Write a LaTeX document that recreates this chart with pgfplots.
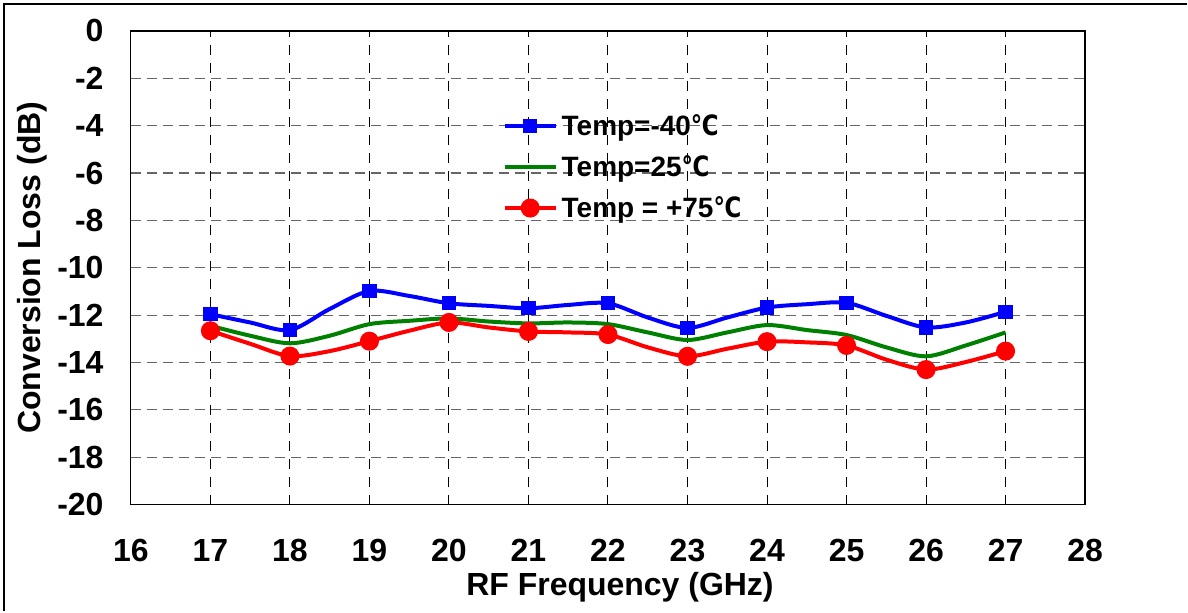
\documentclass[border=0pt]{standalone}
\usepackage{fontspec}
\setmainfont{Liberation Sans}
\newfontfamily\dejavu{DejaVu Sans}
\usepackage{graphicx}
\usepackage{pgfplots}
\usepackage{pgfplotstable}
\pgfplotsset{compat=1.18}
\newcommand{\degC}{\scalebox{0.82}[1]{\dejavu\bfseries ℃}}

\definecolor{tblue}{RGB}{0,0,255}
\definecolor{tgreen}{RGB}{0,128,0}
\definecolor{tred}{RGB}{255,0,0}

% RF frequency (GHz) vs conversion loss (dB) at 0.5 GHz steps
\pgfplotstableread{
f     cl
17   -11.96
17.5 -12.31
18   -12.63
18.5 -11.74
19   -10.98
19.5 -11.19
20   -11.50
20.5 -11.61
21   -11.71
21.5 -11.57
22   -11.50
22.5 -12.10
23   -12.54
23.5 -12.10
24   -11.68
24.5 -11.54
25   -11.48
25.5 -12.03
26   -12.52
26.5 -12.31
27   -11.86
}\tcold
\pgfplotstableread{
f     cl
17   -12.45
17.5 -12.87
18   -13.19
18.5 -12.87
19   -12.38
19.5 -12.24
20   -12.14
20.5 -12.27
21   -12.35
21.5 -12.31
22   -12.38
22.5 -12.73
23   -13.05
23.5 -12.73
24   -12.42
24.5 -12.63
25   -12.84
25.5 -13.36
26   -13.74
26.5 -13.28
27   -12.73
}\troom
\pgfplotstableread{
f     cl
17   -12.66
17.5 -13.21
18   -13.73
18.5 -13.52
19   -13.10
19.5 -12.66
20   -12.31
20.5 -12.52
21   -12.69
21.5 -12.73
22   -12.82
22.5 -13.36
23   -13.74
23.5 -13.42
24   -13.12
24.5 -13.15
25   -13.28
25.5 -13.88
26   -14.30
26.5 -13.98
27   -13.52
}\thot

\begin{document}
\begin{tikzpicture}
  \begin{axis}[
      scale only axis,
      width=477.5pt,
      height=237pt,
      xmin=16, xmax=28,
      ymin=-20, ymax=0,
      xtick={16,...,28},
      ytick={-20,-18,...,0},
      major tick length=0pt,
      axis line style={black, line width=0.6pt},
      tick label style={font=\fontsize{16}{18}\selectfont\bfseries},
      /pgf/number format/assume math mode=true,
      xticklabel style={anchor=center, yshift=-23pt, inner sep=0pt},
      yticklabel style={anchor=east, xshift=-13.5pt, inner sep=0pt},
      xlabel={RF Frequency (GHz)},
      ylabel={Conversion Loss (dB)},
      label style={font=\fontsize{16}{18}\selectfont\bfseries},
      xlabel style={at={(axis description cs:0.5,0)}, anchor=center, yshift=-41.5pt, xshift=6pt},
      ylabel style={at={(axis description cs:0,0.5)}, anchor=center, yshift=49.5pt},
      xmajorgrids, ymajorgrids,
      x grid style={black, dash pattern=on 5pt off 4pt, line width=0.5pt},
      y grid style={black!60, dash pattern=on 5pt off 3pt, line width=0.6pt},
      legend style={draw=none, fill=none, at={(0.383,0.842)}, anchor=north west,
        font=\fontsize{14}{16}\selectfont\bfseries, row sep=4.5pt,
        /tikz/every even column/.append style={column sep=2pt}},
      legend cell align=left,
      legend image code/.code={
        \draw[#1, mark repeat=1, mark phase=1, mark indices={2}]
          plot coordinates {(0pt,0pt) (12.75pt,0pt) (25.5pt,0pt)};
      },
    ]
    \addplot[tblue, line width=2pt, smooth, mark=square*, mark size=2.6pt,
      mark repeat=2, mark options={solid}] table[x=f, y=cl] {\tcold};
    \addlegendentry{Temp=-40\degC}
    \addplot[tgreen, line width=2pt, smooth] table[x=f, y=cl] {\troom};
    \addlegendentry{Temp=25\degC}
    \addplot[tred, line width=2pt, smooth, mark=*, mark size=3.75pt,
      mark repeat=2, mark options={solid}] table[x=f, y=cl] {\thot};
    \addlegendentry{Temp = +75\degC}
  \end{axis}
  % outer chart frame (left and top edges visible in the reference)
  \draw[black, line width=1pt] (-63.5pt,-53.5pt) -- (-63.5pt,250.5pt) -- (528.5pt,250.5pt);
  \path[use as bounding box] (-65.5pt,-53.5pt) rectangle (528.5pt,252.5pt);
\end{tikzpicture}
\end{document}
